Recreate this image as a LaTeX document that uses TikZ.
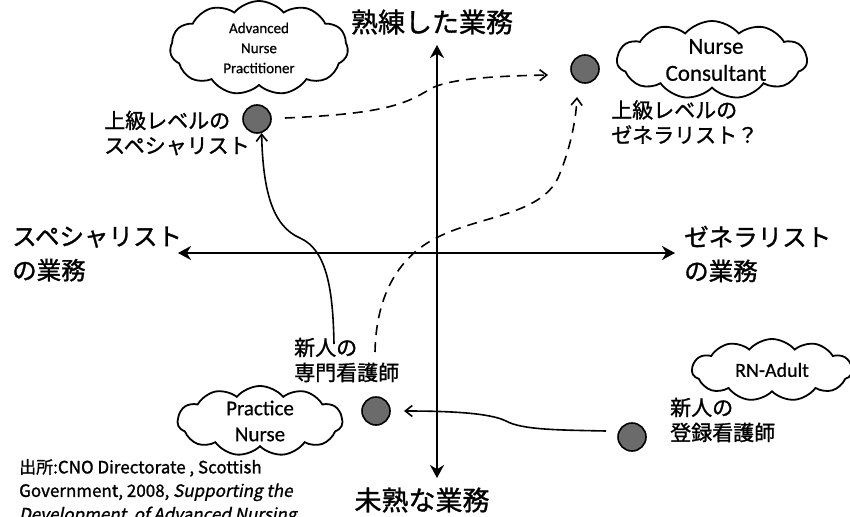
\documentclass[tikz,border=0pt]{standalone}
\usepackage{fontspec}
\setmainfont{Noto Sans CJK JP}[FakeBold=1.2]
\newfontfamily\jpsl{Noto Sans CJK JP}[FakeSlant=0.2,FakeBold=1.2]
\newfontfamily\calfont{Carlito}[FakeBold=0.6]
\usetikzlibrary{shapes.symbols,arrows.meta}
\tikzset{
  axis/.style={line width=2.8pt, {Stealth[length=13pt,width=14pt]}-{Stealth[length=13pt,width=14pt]}},
  dot/.style={circle, draw, line width=1.6pt, fill=black!58, minimum size=28pt, inner sep=0pt},
  conn/.style={line width=1.6pt, -{Straight Barb[length=7pt,width=11pt]}},
  dconn/.style={conn, dash pattern=on 10pt off 7pt},
  cloudbox/.style={cloud, draw, line width=1.8pt, cloud puffs=11, cloud puff arc=100, cloud ignores aspect, inner sep=0pt},
  ctext/.style={align=center, inner sep=0pt, font=\calfont},
  big/.style={font=\fontsize{27}{32}\selectfont, inner sep=0pt},
  side/.style={font=\fontsize{24.5}{34}\selectfont, align=left, anchor=west, inner sep=0pt},
  lab/.style={font=\fontsize{21}{25}\selectfont, align=left, anchor=west, inner sep=0pt},
}
\begin{document}
\begin{tikzpicture}[x=1pt,y=-1pt]
\useasboundingbox (0,0) rectangle (850,516);
\fill[white] (0,0) rectangle (850,516);
% axes
\coordinate (L) at (178,253);
\coordinate (R) at (675,253);
\coordinate (T) at (437,45);
\coordinate (B) at (437,478);
\draw[axis] (L) -- (R);
\draw[axis] (B) -- (T);
% axis labels
\node[big] (top) at (432,22) {熟練した業務};
\node[big] (bot) at (422,500) {未熟な業務};
\node[side] (left) at (12,254) {スペシャリスト\\の業務};
\node[side] (right) at (684,254) {ゼネラリスト\\の業務};
% clouds
\node[cloudbox, minimum width=178pt, minimum height=94pt] (anpc) at (259,48) {};
\node[ctext, font=\calfont\fontsize{15}{20}\selectfont] (anpt) at (anpc) {Advanced\\Nurse\\Practitioner};
\node[cloudbox, minimum width=190pt, minimum height=78pt] (ncc) at (712,60) {};
\node[ctext, font=\calfont\fontsize{23}{27}\selectfont] (nct) at (716,60) {Nurse\\Consultant};
\node[cloudbox, minimum width=160pt, minimum height=62pt] (rnc) at (772,370) {};
\node[ctext, font=\calfont\fontsize{20}{24}\selectfont] (rnt) at (rnc) {RN-Adult};
\node[cloudbox, minimum width=165pt, minimum height=70pt] (pnc) at (260,421) {};
\node[ctext, font=\calfont\fontsize{21}{26}\selectfont] (pnt) at (pnc) {Practice\\Nurse};
% dots
\node[dot] (sa) at (257,119) {};
\node[dot] (ga) at (585,69) {};
\node[dot] (pn) at (376,411) {};
\node[dot] (rn) at (632,437) {};
% labels
\node[lab] (sal) at (104,133) {上級レベルの\\スペシャリスト};
\node[lab] (gal) at (611,122) {上級レベルの\\ゼネラリスト？};
\node[lab] (nsl) at (294,360) {新人の\\専門看護師};
\node[lab] (nrl) at (670,420) {新人の\\登録看護師};
% citation
\node[anchor=north west, align=left, inner sep=0pt, font=\fontsize{17}{23.5}\selectfont] (cite) at (19,459)
  {出所:CNO Directorate , Scottish\\Government, 2008, {\jpsl Supporting the}\\{\jpsl Development\ \ of Advanced Nursing}};
% connectors
\coordinate (c1s) at (334,344);
\draw[conn] (c1s) .. controls (333,290) and (327,250) .. (300,238)
  .. controls (272,226) and (263,190) .. (sa.-72);
\coordinate (c2s) at (285,118);
\coordinate (c2e) at (548,75);
\draw[dconn] (c2s) .. controls (380,114) and (405,105) .. (430,89)
  .. controls (450,78) and (500,76) .. (c2e);
\coordinate (c3s) at (375,352);
\coordinate (c3e) at (577,97);
\draw[dconn] (c3s) .. controls (376,300) and (395,258) .. (438,237)
  .. controls (480,216) and (540,215) .. (558,178)
  .. controls (570,150) and (576,120) .. (c3e);
\coordinate (c4s) at (606,431);
\coordinate (c4e) at (404,411);
\draw[conn] (c4s) .. controls (560,430) and (522,430) .. (506,421)
  .. controls (490,413) and (450,411) .. (c4e);
\end{tikzpicture}
\end{document}
